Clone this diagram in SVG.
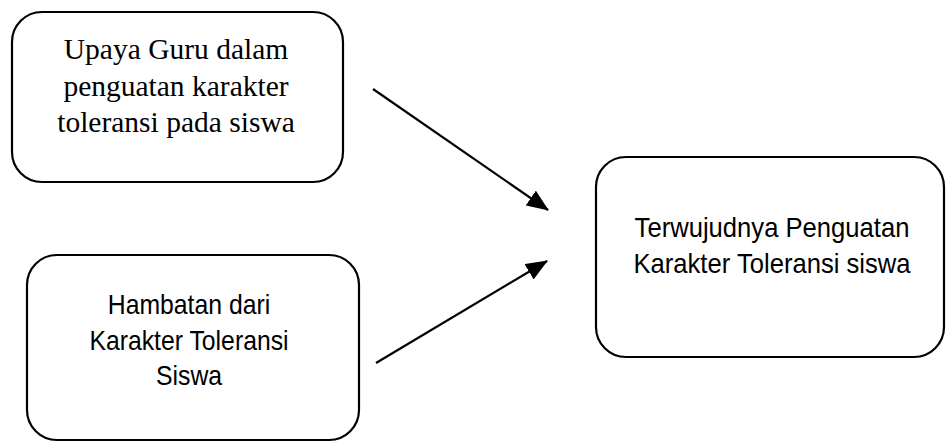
<svg xmlns="http://www.w3.org/2000/svg" width="946" height="443" viewBox="0 0 946 443">
<style>
.box{fill:#fff;stroke:#000;stroke-width:2.2}
.serif{font-family:"Liberation Serif","Times New Roman",serif;font-size:29.5px;fill:#000;text-anchor:middle}
.sans{font-family:"Liberation Sans",Arial,sans-serif;font-size:28px;fill:#000;text-anchor:middle}
.conn{stroke:#000;stroke-width:2.2;fill:none}
</style>
<defs>
<marker id="ah" markerUnits="userSpaceOnUse" markerWidth="22" markerHeight="18" refX="21" refY="9" orient="auto">
<path d="M0,0 L22,9 L0,18 Z" fill="#000"/>
</marker>
</defs>
<rect width="946" height="443" fill="#fff"/>
<g id="node-upaya">
<rect class="box" x="12" y="12" width="331" height="170" rx="30" ry="30"/>
<text class="serif" x="176" y="59">Upaya Guru dalam</text>
<text class="serif" x="176" y="96">penguatan karakter</text>
<text class="serif" x="176" y="132">toleransi pada siswa</text>
</g>
<g id="node-hambatan">
<rect class="box" x="27" y="255" width="332" height="185" rx="30" ry="30"/>
<g transform="translate(189,0) scale(0.885,1)">
<text class="sans" x="0" y="314">Hambatan dari</text>
<text class="sans" x="0" y="350">Karakter Toleransi</text>
<text class="sans" x="0" y="385">Siswa</text>
</g>
</g>
<g id="node-terwujud">
<rect class="box" x="596" y="157" width="348" height="200" rx="30" ry="30"/>
<g transform="translate(772,0) scale(0.915,1)">
<text class="sans" x="0" y="237">Terwujudnya Penguatan</text>
<text class="sans" x="0" y="273">Karakter Toleransi siswa</text>
</g>
</g>
<g id="connectors">
<line class="conn" x1="373" y1="89" x2="548" y2="210" marker-end="url(#ah)"/>
<line class="conn" x1="376" y1="363" x2="547" y2="261" marker-end="url(#ah)"/>
</g>
</svg>
